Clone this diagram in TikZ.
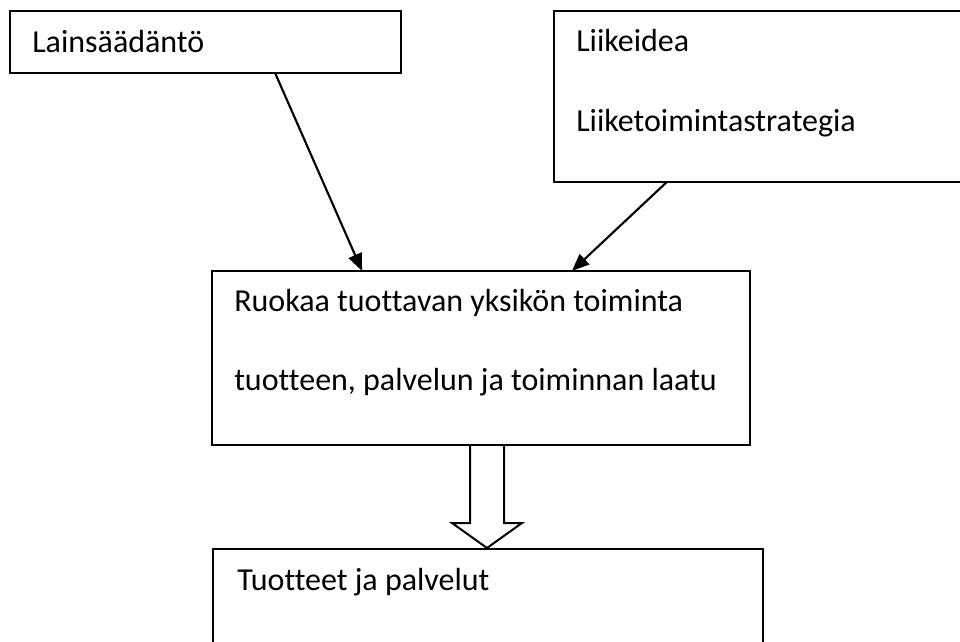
\documentclass[tikz,border=0pt]{standalone}
\usepackage{fontspec}
\setmainfont[Ligatures={NoCommon}]{Carlito}
\usetikzlibrary{arrows.meta,calc}
\begin{document}
\begin{tikzpicture}[x=0.75pt,y=-0.75pt,
  box/.style={draw=black,line width=1.9pt,rectangle,inner sep=0pt,outer sep=0pt,anchor=north west},
  lbl/.style={anchor=base west,inner sep=0pt,font=\fontsize{24pt}{28pt}\selectfont},
  arr/.style={line width=1.6pt,-{Triangle[length=13pt,width=10.5pt]}},
  hollow/.style={line width=1.5pt,line join=miter}]
\useasboundingbox (0,0) rectangle (960,642);
\clip (0,0) rectangle (960,642);
\fill[white] (0,0) rectangle (960,642);
\node[box,minimum width=293.25pt,minimum height=46.5pt] (b1) at (10,11) {};
\node[box,minimum width=315.75pt,minimum height=128.25pt] (b2) at (554,11) {};
\node[box,minimum width=403.5pt,minimum height=130.5pt] (b3) at (212,271) {};
\node[box,minimum width=412.5pt,minimum height=83.25pt] (b4) at (213,549) {};
\node[lbl] (t1) at (32,52.7) {Lainsäädäntö};
\node[lbl] (t2a) at (576,51.7) {Liikeidea};
\node[lbl] (t2b) at (576,131.7) {Liiketoimintastrategia};
\node[lbl] (t3a) at (234,311) {Ruokaa tuottavan yksikön toiminta};
\node[lbl] (t3b) at (234,390.5) {tuotteen, palvelun ja toiminnan laatu};
\node[lbl] (t4) at (237,590.7) {Tuotteet ja palvelut};
\draw[arr] ($(b1.south west)!0.678!(b1.south east)$) -- ($(b3.north west)!0.279!(b3.north east)$);
\draw[arr] ($(b2.south west)!0.268!(b2.south east)$) -- ($(b3.north west)!0.669!(b3.north east)$);
\draw[hollow] (470,445) -- (470,523) -- (452,523) -- (487,548) -- (522,523) -- (504,523) -- (504,445);
\end{tikzpicture}
\end{document}
